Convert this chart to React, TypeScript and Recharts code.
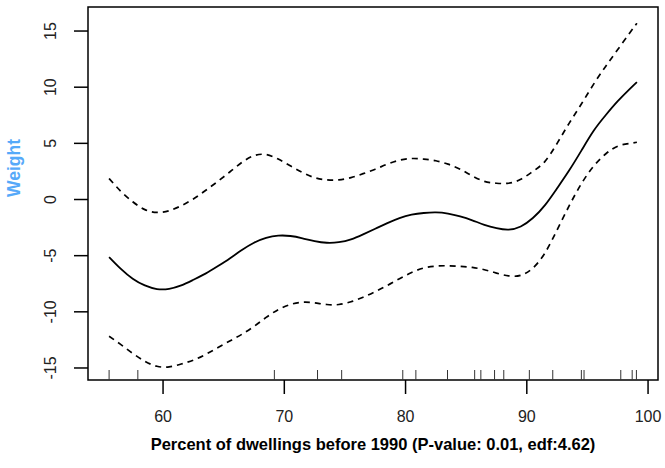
import React from 'react';
import {
    ComposedChart,
    Line,
    Scatter,
    XAxis,
    YAxis,
    ReferenceArea,
    Label,
} from 'recharts';

// smooth term
const xGrid = [
    55.55, 56.5, 57.5, 58.5, 59.5, 60.5, 61.5, 62.5, 63.5, 64.5, 65.5, 66.5, 67.5, 68.5, 69.5,
    70.5, 71.5, 72.5, 73.5, 74.5, 75.5, 76.5, 77.5, 78.5, 79.5, 80.5, 81.5, 82.5, 83.5, 84.5,
    85.5, 86.5, 87.5, 88.5, 89.5, 90.5, 91.5, 92.5, 93.5, 94.5, 95.5, 96.5, 97.5, 98.5, 99.08,
];
const fitValues = [
    -5.12, -6.15, -7.05, -7.65, -7.97, -7.95, -7.65, -7.15, -6.6, -5.95, -5.25, -4.5, -3.85, -3.42, -3.22,
    -3.25, -3.45, -3.7, -3.85, -3.8, -3.55, -3.1, -2.6, -2.1, -1.65, -1.35, -1.2, -1.15, -1.25, -1.5,
    -1.85, -2.25, -2.55, -2.68, -2.4, -1.65, -0.5, 1.0, 2.6, 4.35, 6.1, 7.5, 8.75, 9.85, 10.45,
];
const upperValues = [
    1.87, 0.75, -0.2, -0.9, -1.15, -1.0, -0.55, 0.05, 0.8, 1.6, 2.45, 3.3, 3.9, 4.0, 3.6,
    3.0, 2.4, 1.95, 1.75, 1.75, 1.95, 2.3, 2.7, 3.15, 3.5, 3.65, 3.6, 3.45, 3.15, 2.7,
    2.1, 1.62, 1.45, 1.45, 1.8, 2.5, 3.4, 5.0, 6.8, 8.5, 10.25, 11.85, 13.35, 14.85, 15.7,
];
const lowerValues = [
    -12.18, -12.9, -13.7, -14.4, -14.85, -14.9, -14.65, -14.3, -13.8, -13.2, -12.6, -12.0, -11.3, -10.5, -9.8,
    -9.35, -9.15, -9.2, -9.35, -9.35, -9.1, -8.7, -8.2, -7.65, -7.05, -6.5, -6.1, -5.93, -5.9, -5.95,
    -6.05, -6.25, -6.55, -6.8, -6.75, -6.1, -4.75, -2.7, -0.55, 1.4, 2.95, 4.05, 4.75, 5.0, 5.1,
];

// observed x values (rug)
const rugValues = [
    55.55, 57.92, 69.18, 72.74, 74.73, 79.77, 80.85, 83.46, 85.7, 86.21, 87.34, 88.1,
    90.21, 92.14, 94.5, 94.72, 97.75, 98.69, 99.04,
];

const xTicks = [60, 70, 80, 90, 100];
const yTicks = [-15, -10, -5, 0, 5, 10, 15];

const X_MIN = 53.81;
const X_MAX = 100.82;
const Y_MIN = -16.07;
const Y_MAX = 17.14;

const FONT = '"Liberation Sans", Arial, Helvetica, sans-serif';

const rows = xGrid.map((x, i) => ({
    x,
    fit: fitValues[i],
    upper: upperValues[i],
    lower: lowerValues[i],
}));

const rugData = rugValues.map((x) => ({ x, y: Y_MIN }));

const RugMark = (props: any) => {
    const { cx, cy } = props;
    return <line x1={cx} y1={cy} x2={cx} y2={cy - 10} stroke="#333" strokeWidth={1} />;
};

const YTick = (props: any) => {
    const { x, y, payload } = props;
    const tx = x - 18;
    return (
        <text
            x={tx}
            y={y}
            transform={`rotate(-90, ${tx}, ${y})`}
            textAnchor="middle"
            fill="#222"
            fontSize={16}
            fontFamily={FONT}
        >
            {payload.value}
        </text>
    );
};

const App = () => {
    return (
        <div style={{ position: 'absolute', left: 0, top: 0, width: 665, height: 468, background: '#fff' }}>
            <ComposedChart
                width={665}
                height={468}
                data={rows}
                margin={{ top: 7, right: 7, bottom: 0, left: 0 }}
                style={{ fontFamily: FONT }}
            >
                <XAxis
                    dataKey="x"
                    type="number"
                    domain={[X_MIN, X_MAX]}
                    allowDataOverflow
                    ticks={xTicks}
                    height={88}
                    axisLine={false}
                    tickSize={14}
                    tickMargin={17}
                    tickLine={{ stroke: '#000', strokeWidth: 1.5 }}
                    tick={{ fill: '#222', fontSize: 16, fontFamily: FONT }}
                >
                    <Label
                        value="Percent of dwellings before 1990 (P-value: 0.01, edf:4.62)"
                        position="insideBottom"
                        offset={18}
                        fill="#000"
                        fontSize={16.5}
                        fontWeight="bold"
                        fontFamily={FONT}
                    />
                </XAxis>
                <YAxis
                    type="number"
                    domain={[Y_MIN, Y_MAX]}
                    allowDataOverflow
                    ticks={yTicks}
                    width={88}
                    axisLine={false}
                    tickSize={14}
                    tickMargin={0}
                    tickLine={{ stroke: '#000', strokeWidth: 1.5 }}
                    tick={<YTick />}
                >
                    <Label
                        content={(p: any) => {
                            const vb = p.viewBox || {};
                            const lx = (vb.x ?? 0) + 20;
                            const ly = (vb.y ?? 0) + 161;
                            return (
                                <text
                                    x={lx}
                                    y={ly}
                                    transform={`rotate(-90, ${lx}, ${ly})`}
                                    textAnchor="middle"
                                    fill="#56A9F9"
                                    fontSize={17.5}
                                    fontWeight="bold"
                                    fontFamily={FONT}
                                >
                                    Weight
                                </text>
                            );
                        }}
                    />
                </YAxis>
                <ReferenceArea
                    x1={X_MIN}
                    x2={X_MAX}
                    y1={Y_MIN}
                    y2={Y_MAX}
                    fill="none"
                    stroke="#000"
                    strokeWidth={1.5}
                    ifOverflow="visible"
                />
                <Line
                    dataKey="upper"
                    type="natural"
                    stroke="#000"
                    strokeWidth={1.7}
                    strokeDasharray="6 5"
                    dot={false}
                    activeDot={false}
                    isAnimationActive={false}
                />
                <Line
                    dataKey="lower"
                    type="natural"
                    stroke="#000"
                    strokeWidth={1.7}
                    strokeDasharray="6 5"
                    dot={false}
                    activeDot={false}
                    isAnimationActive={false}
                />
                <Line
                    dataKey="fit"
                    type="natural"
                    stroke="#000"
                    strokeWidth={1.8}
                    dot={false}
                    activeDot={false}
                    isAnimationActive={false}
                />
                <Scatter
                    data={rugData}
                    dataKey="y"
                    shape={<RugMark />}
                    isAnimationActive={false}
                />
            </ComposedChart>
        </div>
    );
};

export default App;
